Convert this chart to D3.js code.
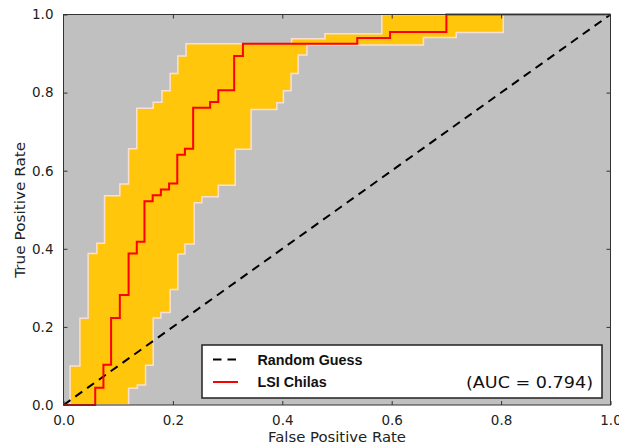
<!DOCTYPE html>
<html>
<head>
<meta charset="utf-8">
<script src="https://cdn.jsdelivr.net/npm/d3@7"></script>
<style>
  body { margin: 0; background: #fff; }
  svg { display: block; }
</style>
</head>
<body>
<svg></svg>
<script>
// ROC curve vertices (step after: horizontal then vertical)
const rocFpr = [0, 0.058, 0.073, 0.087, 0.103, 0.119, 0.134, 0.148, 0.163, 0.178, 0.193, 0.208, 0.222, 0.237, 0.268, 0.283, 0.312, 0.328, 0.537, 0.597, 0.700, 1.0];
const rocTpr = [0, 0.044, 0.103, 0.223, 0.282, 0.388, 0.418, 0.522, 0.537, 0.552, 0.567, 0.641, 0.656, 0.761, 0.776, 0.806, 0.894, 0.925, 0.940, 0.955, 1.0, 1.0];

// upper (left) edge of the confidence band
const upperFpr = [0, 0.012, 0.030, 0.045, 0.061, 0.075, 0.103, 0.119, 0.134, 0.164, 0.180, 0.195, 0.209, 0.224, 0.417, 0.478, 0.582, 1.0];
const upperTpr = [0, 0.100, 0.222, 0.388, 0.414, 0.536, 0.566, 0.656, 0.760, 0.775, 0.805, 0.849, 0.894, 0.925, 0.938, 0.951, 1.0, 1.0];

// lower (right) edge of the confidence band
const lowerFpr = [0, 0.119, 0.135, 0.150, 0.164, 0.178, 0.195, 0.209, 0.222, 0.239, 0.253, 0.283, 0.314, 0.343, 0.390, 0.402, 0.416, 0.429, 0.445, 0.658, 0.718, 0.804, 1.0];
const lowerTpr = [0, 0.043, 0.051, 0.102, 0.223, 0.237, 0.296, 0.387, 0.412, 0.518, 0.533, 0.563, 0.655, 0.757, 0.774, 0.805, 0.849, 0.896, 0.922, 0.941, 0.954, 1.0, 1.0];

const guessLine = [0, 1];
const xTicks = [0, 0.2, 0.4, 0.6, 0.8, 1.0];
const yTicks = [0, 0.2, 0.4, 0.6, 0.8, 1.0];
const legendLabels = ["Random Guess", "LSI Chilas"];
const aucLabel = "(AUC = 0.794)";

const canvas = { width: 619, height: 447 };
const plot = { left: 63.5, right: 610.5, top: 14.5, bottom: 405 };

const svg = d3.select("svg")
  .attr("width", canvas.width)
  .attr("height", canvas.height);

const x = d3.scaleLinear().domain([0, 1]).range([plot.left, plot.right]);
const y = d3.scaleLinear().domain([0, 1]).range([plot.bottom, plot.top]);

const zip = (xs, ys) => xs.map((v, i) => [v, ys[i]]);

// expand step-after vertices into a polyline
const stepPoints = (pts) => {
  let out = [pts[0]];
  for (let i = 1; i < pts.length; i++) {
    out.push([pts[i][0], pts[i - 1][1]]);
    out.push(pts[i]);
  }
  return out;
};

const stepLine = d3.line()
  .x((d) => x(d[0]))
  .y((d) => y(d[1]))
  .curve(d3.curveStepAfter);

const plainLine = d3.line()
  .x((d) => x(d[0]))
  .y((d) => y(d[1]));

// background
svg.append("rect")
  .attr("x", plot.left)
  .attr("y", plot.top)
  .attr("width", plot.right - plot.left)
  .attr("height", plot.bottom - plot.top)
  .attr("fill", "#c0c0c0");

// band fill
const upperPts = zip(upperFpr, upperTpr);
const lowerPts = zip(lowerFpr, lowerTpr);
const bandPoly = stepPoints(upperPts).concat(stepPoints(lowerPts).reverse());

svg.append("path")
  .attr("d", plainLine(bandPoly) + "Z")
  .attr("fill", "#ffc60b")
  .attr("stroke", "none");

[upperPts, lowerPts].forEach((pts) => {
  svg.append("path")
    .attr("d", stepLine(pts))
    .attr("fill", "none")
    .attr("stroke", "#fbe0d2")
    .attr("stroke-width", 1.5);
});

// random guess diagonal
svg.append("path")
  .attr("d", plainLine(zip(guessLine, guessLine)))
  .attr("fill", "none")
  .attr("stroke", "#000")
  .attr("stroke-width", 2)
  .attr("stroke-dasharray", "8.5,6");

// ROC curve
svg.append("path")
  .attr("d", stepLine(zip(rocFpr, rocTpr)))
  .attr("fill", "none")
  .attr("stroke", "#ff0000")
  .attr("stroke-width", 2);

// axes with inside ticks on all sides
const tickFmt = d3.format(".1f");
const axisStyle = (g) => {
  g.select(".domain").remove();
  g.selectAll(".tick line").attr("stroke", "#333");
  g.selectAll(".tick text")
    .attr("fill", "#222")
    .style("font-family", "'DejaVu Sans', sans-serif")
    .style("font-size", "13.5px");
};

svg.append("g")
  .attr("transform", `translate(0,${plot.bottom})`)
  .call(d3.axisBottom(x).tickValues(xTicks).tickFormat(tickFmt).tickSizeInner(-4).tickPadding(10))
  .call(axisStyle);

svg.append("g")
  .attr("transform", `translate(${plot.left},0)`)
  .call(d3.axisLeft(y).tickValues(yTicks).tickFormat(tickFmt).tickSizeInner(-4).tickPadding(10))
  .call(axisStyle);

svg.append("g")
  .attr("transform", `translate(0,${plot.top})`)
  .call(d3.axisTop(x).tickValues(xTicks.slice(1, -1)).tickFormat("").tickSizeInner(-4))
  .call(axisStyle);

svg.append("g")
  .attr("transform", `translate(${plot.right},0)`)
  .call(d3.axisRight(y).tickValues(yTicks.slice(1, -1)).tickFormat("").tickSizeInner(-4))
  .call(axisStyle);

// plot frame
svg.append("rect")
  .attr("x", plot.left)
  .attr("y", plot.top)
  .attr("width", plot.right - plot.left)
  .attr("height", plot.bottom - plot.top)
  .attr("fill", "none")
  .attr("stroke", "#333")
  .attr("stroke-width", 1);

// axis titles
svg.append("text")
  .attr("x", (plot.left + plot.right) / 2)
  .attr("y", 441.5)
  .attr("text-anchor", "middle")
  .attr("textLength", 138)
  .attr("lengthAdjust", "spacingAndGlyphs")
  .style("font-family", "'DejaVu Sans', sans-serif")
  .style("font-size", "14px")
  .attr("fill", "#222")
  .text("False Positive Rate");

svg.append("text")
  .attr("transform", `translate(24.5,${(plot.top + plot.bottom) / 2}) rotate(-90)`)
  .attr("text-anchor", "middle")
  .attr("textLength", 136)
  .attr("lengthAdjust", "spacingAndGlyphs")
  .style("font-family", "'DejaVu Sans', sans-serif")
  .style("font-size", "14px")
  .attr("fill", "#222")
  .text("True Positive Rate");

// legend
const legend = svg.append("g").attr("transform", "translate(202,345)");

legend.append("rect")
  .attr("width", 400)
  .attr("height", 53)
  .attr("fill", "#fff")
  .attr("stroke", "#222")
  .attr("stroke-width", 1.5);

const legendStyles = [
  { stroke: "#000", dash: "8.5,6" },
  { stroke: "#ff0000", dash: null },
];

legendLabels.forEach((label, i) => {
  const ly = 14.5 + i * 22.5;
  legend.append("line")
    .attr("x1", 11)
    .attr("x2", 36)
    .attr("y1", ly)
    .attr("y2", ly)
    .attr("stroke", legendStyles[i].stroke)
    .attr("stroke-width", 2)
    .attr("stroke-dasharray", legendStyles[i].dash);
  legend.append("text")
    .attr("x", 55.5)
    .attr("y", ly + 5)
    .style("font-family", "'Liberation Sans', Arial, sans-serif")
    .style("font-weight", "bold")
    .style("font-size", "14.3px")
    .attr("fill", "#111")
    .text(label);
});

legend.append("text")
  .attr("x", 391)
  .attr("y", 42.5)
  .attr("text-anchor", "end")
  .attr("textLength", 127)
  .attr("lengthAdjust", "spacingAndGlyphs")
  .style("font-family", "'DejaVu Sans', sans-serif")
  .style("font-size", "15px")
  .attr("fill", "#111")
  .text(aucLabel);
</script>
</body>
</html>
